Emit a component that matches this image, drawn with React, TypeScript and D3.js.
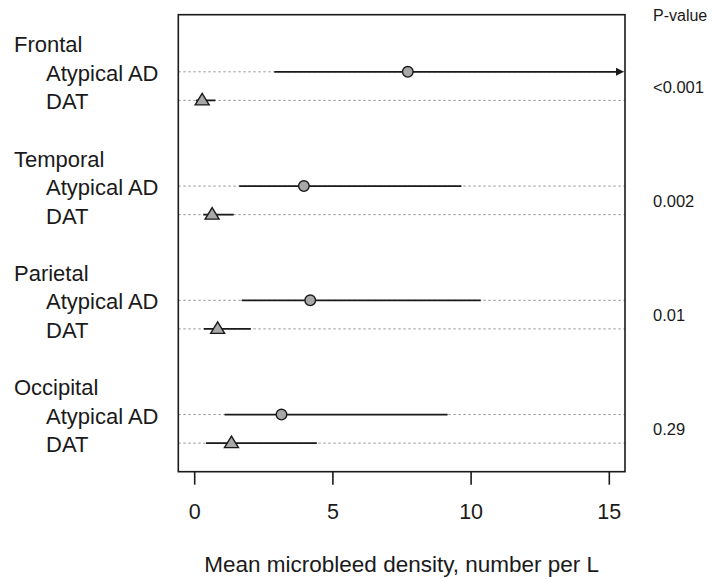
import React from "react";
import { scaleLinear, line } from "d3";

// regions and groups as printed on the left
const regions = ["Frontal", "Temporal", "Parietal", "Occipital"];
const groups = ["Atypical AD", "DAT"];

// mean microbleed density with 95% CI
const atypicalMean = [7.71, 3.95, 4.18, 3.14];
const atypicalLower = [2.88, 1.61, 1.7, 1.08];
const atypicalUpper = [20, 9.65, 10.35, 9.15]; // frontal runs off the axis (arrow)
const datMean = [0.27, 0.63, 0.83, 1.33];
const datLower = [0.05, 0.31, 0.33, 0.41];
const datUpper = [0.75, 1.41, 2.03, 4.42];

const pValues = ["<0.001", "0.002", "0.01", "0.29"];
const xTicks = [0, 5, 10, 15];

const W = 715;
const H = 579;
const boxLeft = 178.3;
const boxRight = 625;
const boxTop = 14.7;
const boxBottom = 471.7;
const font = "'Liberation Sans', Arial, Helvetica, sans-serif";
const ink = "#1a1a1a";
const markFill = "#a8a8a8";

function App() {
  const x = scaleLinear().domain([0, 15]).range([194.7, 609.3]);
  // one row per label line, 4 rows per region (header, AAD, DAT, gap)
  const y = scaleLinear().domain([-1, 15]).range([boxTop, boxBottom]);
  const xMax = x.invert(boxRight);

  const rows = regions.flatMap((r, i) => [
    { group: groups[0], row: 4 * i + 1, mean: atypicalMean[i], lo: atypicalLower[i], hi: atypicalUpper[i] },
    { group: groups[1], row: 4 * i + 2, mean: datMean[i], lo: datLower[i], hi: datUpper[i] },
  ]);

  const seg = line<[number, number]>();
  const labelSize = 22;
  const baseShift = labelSize * 0.358 + 1.2;

  return (
    <svg width={W} height={H} style={{ position: "absolute", left: 0, top: 0, background: "#fff" }}>
      {/* dotted guide lines */}
      {rows.map((d, i) => (
        <line key={"g" + i} x1={boxLeft} x2={boxRight} y1={y(d.row)} y2={y(d.row)}
          stroke="#9a9a9a" strokeWidth={1} strokeDasharray="2.5,2.5" />
      ))}

      {/* confidence intervals */}
      {rows.map((d, i) => {
        const clipped = d.hi > xMax;
        const x1 = x(d.lo);
        const x2 = clipped ? boxRight - 1 : x(d.hi);
        const yy = y(d.row);
        return (
          <g key={"ci" + i}>
            <path d={seg([[x1, yy], [clipped ? x2 - 6 : x2, yy]]) || ""} stroke={ink} strokeWidth={1.8} fill="none" />
            {clipped && (
              <path d={`M${x2 - 8},${yy - 4} L${x2},${yy} L${x2 - 8},${yy + 4} Z`} fill={ink} />
            )}
          </g>
        );
      })}

      {/* point estimates */}
      {rows.map((d, i) => {
        const cx = x(d.mean);
        const cy = y(d.row);
        return d.group === groups[0] ? (
          <circle key={"m" + i} cx={cx} cy={cy} r={5.3} fill={markFill} stroke={ink} strokeWidth={1.4} />
        ) : (
          <path key={"m" + i} d={`M${cx - 7},${cy + 4.5} L${cx + 7},${cy + 4.5} L${cx},${cy - 7} Z`}
            fill={markFill} stroke={ink} strokeWidth={1.4} strokeLinejoin="miter" />
        );
      })}

      {/* plot frame */}
      <rect x={boxLeft} y={boxTop} width={boxRight - boxLeft} height={boxBottom - boxTop}
        fill="none" stroke={ink} strokeWidth={1.6} />

      {/* x axis ticks */}
      {xTicks.map((t) => (
        <g key={"t" + t}>
          <line x1={x(t)} x2={x(t)} y1={boxBottom} y2={boxBottom + 13} stroke={ink} strokeWidth={1.6} />
          <text x={x(t)} y={519} textAnchor="middle" fontFamily={font} fontSize={21.5} fill={ink}>{t}</text>
        </g>
      ))}
      <text x={401.7} y={571.5} textAnchor="middle" fontFamily={font} fontSize={22.5} fill={ink}>
        Mean microbleed density, number per L
      </text>

      {/* row labels */}
      {regions.map((r, i) => (
        <g key={"r" + r}>
          <text x={14} y={y(4 * i) + baseShift} fontFamily={font} fontSize={labelSize} fill={ink}>{r}</text>
          {groups.map((g, j) => (
            <text key={g} x={46} y={y(4 * i + 1 + j) + baseShift} fontFamily={font} fontSize={labelSize} fill={ink}>{g}</text>
          ))}
        </g>
      ))}

      {/* p-values */}
      <text x={653} y={20.7} fontFamily={font} fontSize={16} fill={ink}>P-value</text>
      {pValues.map((p, i) => (
        <text key={"p" + i} x={653} y={y(4 * i + 1.5) + 6.5} fontFamily={font} fontSize={16.5} fill={ink}>{p}</text>
      ))}
    </svg>
  );
}

export default App;
